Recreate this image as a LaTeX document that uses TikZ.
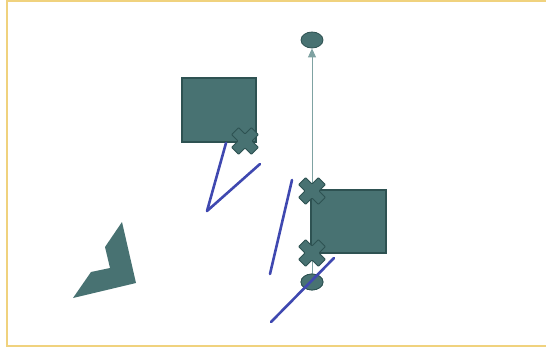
\documentclass[tikz,border=0pt]{standalone}
\usepackage{xcolor}
\usepackage{tikz}
\usetikzlibrary{shapes.geometric, arrows.meta, positioning, calc}

\definecolor{slate}{HTML}{487272}
\definecolor{slateedge}{HTML}{2E5252}
\definecolor{pen}{HTML}{3F48B0}
\definecolor{guide}{HTML}{7FA2A2}
\definecolor{frame}{HTML}{F0D27E}

\begin{document}
\begin{tikzpicture}[
    x=1pt, y=-1pt,
    block/.style={draw=slateedge, fill=slate, line width=1.2pt, inner sep=0pt},
    blob/.style={ellipse, draw=slateedge, fill=slate, line width=0.8pt,
                 minimum width=22pt, minimum height=16pt, inner sep=0pt},
    stroke/.style={pen, line width=2.6pt, line cap=round, line join=round},
    mark x/.pic={
      \fill[slate, draw=slateedge, line width=0.9pt, rotate=45, rounded corners=0.8pt]
        (5,5) -- (14,5) -- (14,-5) -- (5,-5) -- (5,-14) -- (-5,-14)
        -- (-5,-5) -- (-14,-5) -- (-14,5) -- (-5,5) -- (-5,14)
        -- (5,14) -- cycle;
    },
]
\useasboundingbox (0,0) rectangle (546,350);
%% frame
\draw[frame, line width=2.6pt] (560,1) -- (7,1) -- (7,346) -- (560,346);

%% left square and its strokes
\node[block, minimum width=74pt, minimum height=64pt] (boxA) at (219,110) {};
\pic at (245,141) {mark x};
\draw[stroke] (226,143) -- (207,211) -- (260,164);

%% arrow from lower to upper ellipse
\node[blob] (top) at (312,40) {};
\node[blob] (bottom) at (312,282) {};
\draw[guide, line width=0.9pt, -{Triangle[width=8pt,length=9pt]}] (bottom) -- (top);

%% right square with its marks
\node[block, minimum width=75pt, minimum height=63pt] (boxB) at (348.5,221.5) {};
\node[blob] at (bottom) {};
\pic at (312,191) {mark x};
\pic at (312,253) {mark x};
\draw[stroke] (292,180) -- (270,274);
\draw[stroke] (334,258) -- (271,322);

%% arrow-head polygon
\fill[slate] (122,222) -- (136,283) -- (73,298) -- (91,272) -- (110,268)
  -- (105,247) -- cycle;
\end{tikzpicture}
\end{document}
